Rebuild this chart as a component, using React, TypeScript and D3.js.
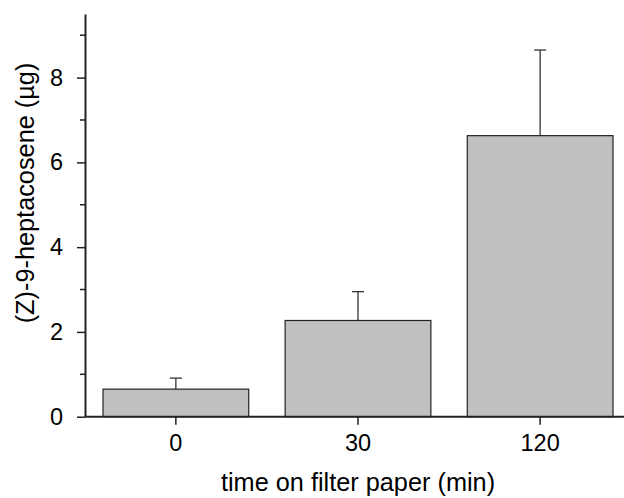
import React, { useRef, useEffect } from 'react';
import * as d3 from 'd3';

// time on filter paper (min)
const categories = ['0', '30', '120'];
// mean amount of (Z)-9-heptacosene (µg)
const means = [0.65, 2.27, 6.63];
// upper error (mean + sd)
const errTops = [0.91, 2.95, 8.65];
const yMajorTicks = [0, 2, 4, 6, 8];
const yMinorTicks = [1, 3, 5, 7, 9];

const App = () => {
  const svgRef = useRef<SVGSVGElement>(null);

  const width = 624;
  const height = 498;
  const font = 'Liberation Sans, Arial, sans-serif';

  useEffect(() => {
    const svg = d3.select(svgRef.current);
    svg.selectAll('*').remove();

    const axisX = 85;
    const y0 = 416.7;

    const x = d3.scaleBand()
      .domain(categories)
      .range([103, 613])
      .paddingInner(0.2)
      .paddingOuter(0);

    const y = d3.scaleLinear()
      .domain([0, 9.5])
      .range([y0, 14]);

    const data = categories.map((c, i) => ({ cat: c, mean: means[i], top: errTops[i] }));

    // error bars (drawn first, bars cover lower half)
    const err = svg.append('g')
      .attr('stroke', '#333')
      .attr('stroke-width', 1.3);
    err.selectAll('line.v')
      .data(data)
      .join('line')
      .attr('class', 'v')
      .attr('x1', d => x(d.cat)! + x.bandwidth() / 2)
      .attr('x2', d => x(d.cat)! + x.bandwidth() / 2)
      .attr('y1', d => y(d.mean))
      .attr('y2', d => y(d.top));
    err.selectAll('line.cap')
      .data(data)
      .join('line')
      .attr('class', 'cap')
      .attr('x1', d => x(d.cat)! + x.bandwidth() / 2 - 6)
      .attr('x2', d => x(d.cat)! + x.bandwidth() / 2 + 6)
      .attr('y1', d => y(d.top))
      .attr('y2', d => y(d.top));

    svg.append('g')
      .selectAll('rect')
      .data(data)
      .join('rect')
      .attr('x', d => x(d.cat)!)
      .attr('width', x.bandwidth())
      .attr('y', d => y(d.mean))
      .attr('height', d => y(0) - y(d.mean))
      .attr('fill', '#c0c0c0')
      .attr('stroke', '#222')
      .attr('stroke-width', 1.2);

    // y axis
    const yAxis = svg.append('g')
      .attr('transform', `translate(${axisX},0)`)
      .call(d3.axisLeft(y).tickValues(yMajorTicks).tickSize(8).tickPadding(14).tickSizeOuter(0));
    yAxis.select('.domain').attr('stroke', '#222').attr('stroke-width', 2);
    yAxis.selectAll('.tick line').attr('stroke', '#222').attr('stroke-width', 1.5);
    yAxis.selectAll('.tick text')
      .attr('font-family', font)
      .attr('font-size', 23.5)
      .attr('fill', '#000');
    yAxis.selectAll('line.minor')
      .data(yMinorTicks)
      .join('line')
      .attr('class', 'minor')
      .attr('x1', -5)
      .attr('x2', 0)
      .attr('y1', d => y(d))
      .attr('y2', d => y(d))
      .attr('stroke', '#222')
      .attr('stroke-width', 1.5);

    // x axis
    const xAxis = svg.append('g')
      .attr('transform', `translate(0,${y0})`)
      .call(d3.axisBottom(x).tickSize(8).tickPadding(10).tickSizeOuter(0));
    xAxis.select('.domain').remove();
    xAxis.append('line')
      .attr('x1', axisX)
      .attr('x2', width)
      .attr('stroke', '#222')
      .attr('stroke-width', 2);
    xAxis.selectAll('.tick line').attr('stroke', '#222').attr('stroke-width', 1.5);
    xAxis.selectAll('.tick text')
      .attr('font-family', font)
      .attr('font-size', 23.5)
      .attr('fill', '#000');

    svg.append('text')
      .attr('x', 358)
      .attr('y', 491)
      .attr('text-anchor', 'middle')
      .attr('font-family', font)
      .attr('font-size', 25.3)
      .text('time on filter paper (min)');

    svg.append('text')
      .attr('transform', 'translate(34,193) rotate(-90)')
      .attr('text-anchor', 'middle')
      .attr('font-family', font)
      .attr('font-size', 25.3)
      .text('(Z)-9-heptacosene (µg)');
  }, []);

  return (
    <svg
      ref={svgRef}
      width={width}
      height={height}
      style={{ position: 'absolute', left: 0, top: 0, background: '#fff' }}
    />
  );
};

export default App;
